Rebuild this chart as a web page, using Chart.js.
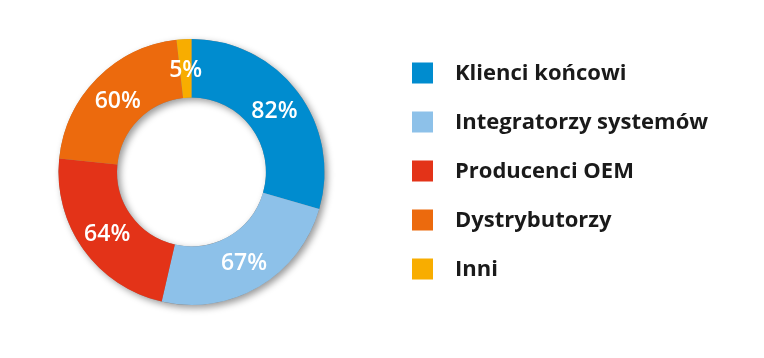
<!DOCTYPE html>
<html>
<head>
<meta charset="utf-8">
<script src="https://cdn.jsdelivr.net/npm/chart.js@4"></script>
<style>
  html, body { margin: 0; padding: 0; background: #ffffff; }
  #wrap { position: relative; width: 764px; height: 358px; }
</style>
</head>
<body>
<div id="wrap"><canvas id="c" width="764" height="358"></canvas></div>
<script>
const categories = ["Klienci końcowi", "Integratorzy systemów", "Producenci OEM", "Dystrybutorzy", "Inni"];
const values = [82, 67, 64, 60, 5];
const valueLabels = ["82%", "67%", "64%", "60%", "5%"];
const colors = ["#008ccf", "#8dc1e9", "#e33318", "#ec6a0d", "#f8ad00"];

const ringShadow = {
  id: 'ringShadow',
  beforeDatasetsDraw(chart) {
    const arc = chart.getDatasetMeta(0).data[0];
    if (!arc) return;
    const ctx = chart.ctx;
    ctx.save();
    ctx.shadowColor = 'rgba(0,0,0,0.40)';
    ctx.shadowBlur = 7;
    ctx.shadowOffsetX = 3;
    ctx.shadowOffsetY = 3;
    ctx.beginPath();
    ctx.arc(arc.x, arc.y, arc.outerRadius, 0, Math.PI * 2);
    ctx.arc(arc.x, arc.y, arc.innerRadius, 0, Math.PI * 2, true);
    ctx.closePath();
    ctx.fillStyle = '#888';
    ctx.fill();
    ctx.restore();
  }
};

const valueText = {
  id: 'valueText',
  afterDatasetsDraw(chart) {
    const ctx = chart.ctx;
    ctx.save();
    ctx.fillStyle = '#ffffff';
    ctx.font = '600 23px "Open Sans"';
    ctx.textAlign = 'center';
    ctx.textBaseline = 'middle';
    chart.getDatasetMeta(0).data.forEach((a, i) => {
      const p = a.getCenterPoint();
      ctx.fillText(valueLabels[i], p.x, p.y + 2);
    });
    ctx.restore();
  }
};

const sideLegend = {
  id: 'sideLegend',
  afterDraw(chart) {
    const ctx = chart.ctx;
    ctx.save();
    ctx.font = '700 22px "Open Sans"';
    ctx.textBaseline = 'middle';
    ctx.textAlign = 'left';
    const x0 = 412, y0 = 73, step = 49, box = 21;
    chart.data.labels.forEach((lab, i) => {
      const y = y0 + i * step;
      ctx.fillStyle = chart.data.datasets[0].backgroundColor[i];
      ctx.fillRect(x0, y - box / 2, box, box);
      ctx.fillStyle = '#1a1a1a';
      ctx.fillText(lab, 455, y + 1);
    });
    ctx.restore();
  }
};

new Chart(document.getElementById('c'), {
  type: 'doughnut',
  data: {
    labels: categories,
    datasets: [{
      data: values,
      backgroundColor: colors,
      borderWidth: 0
    }]
  },
  options: {
    responsive: false,
    animation: false,
    cutout: '56%',
    layout: { padding: { left: 58, top: 39, right: 439, bottom: 53 } },
    plugins: {
      legend: { display: false },
      tooltip: { enabled: false }
    }
  },
  plugins: [ringShadow, valueText, sideLegend]
});
</script>
</body>
</html>
